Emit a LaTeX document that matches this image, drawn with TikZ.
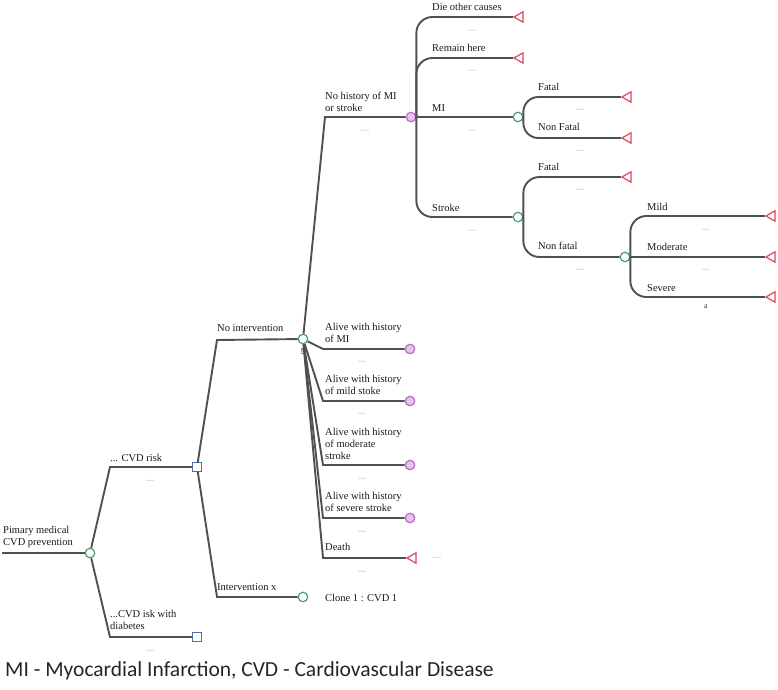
\documentclass[tikz,border=0pt]{standalone}
\usepackage{fontspec}
\setmainfont{Liberation Serif}
\newfontfamily\footfont{Carlito}
\usetikzlibrary{shapes.geometric}
\definecolor{lineclr}{RGB}{80,80,80}
\definecolor{chanceclr}{RGB}{70,160,110}
\definecolor{markovclr}{RGB}{185,110,195}
\definecolor{markovfill}{RGB}{228,195,238}
\definecolor{termclr}{RGB}{220,70,90}
\definecolor{decclr}{RGB}{80,110,170}
\definecolor{dashclr}{RGB}{165,165,165}
\definecolor{warnclr}{RGB}{120,40,40}
\tikzset{
  branch/.style={draw=lineclr, line width=1.9pt},
  rbranch/.style={branch, rounded corners=16pt},
  chance/.style={circle, draw=chanceclr, fill=white, line width=1.2pt, minimum size=9.5pt, inner sep=0pt},
  markov/.style={circle, draw=markovclr, fill=markovfill, line width=1.2pt, minimum size=9.5pt, inner sep=0pt},
  decision/.style={rectangle, draw=decclr, fill=white, line width=1.2pt, minimum size=8.5pt, inner sep=0pt},
  terminal/.style={regular polygon, regular polygon sides=3, shape border rotate=90, draw=termclr, fill=white, line width=1.2pt, minimum size=12pt, inner sep=0pt},
  lbl/.style={anchor=north west, inner sep=0pt, align=left, font=\fontsize{10.5}{12}\selectfont, text=black!90},
  dashmark/.style={inner sep=0pt, text=dashclr, font=\fontsize{8}{8}\selectfont},
}
\begin{document}
\begin{tikzpicture}[x=1pt, y=-1pt]
\useasboundingbox (0,0) rectangle (778,689);

% ---------- nodes ----------
\coordinate (rootL) at (2,553);
\node[chance] (C0) at (90,553) {};
\node[decision] (D1) at (197,467) {};
\node[decision] (D2) at (197,637) {};
\node[chance] (C1) at (303,339) {};
\node[chance] (Cint) at (303,597) {};
\node[markov] (M1) at (411,117) {};
\node[markov] (M2) at (410,349) {};
\node[markov] (M3) at (410,401) {};
\node[markov] (M4) at (410,465) {};
\node[markov] (M5) at (410,518) {};
\node[terminal] (Tdeath) at (413,558) {};
\node[terminal] (Tdie) at (520,17) {};
\node[terminal] (Tremain) at (520,58) {};
\node[chance] (C2) at (518,117) {};
\node[chance] (C3) at (518,217) {};
\node[terminal] (TMIf) at (628,97) {};
\node[terminal] (TMInf) at (628,138) {};
\node[terminal] (TSf) at (628,177) {};
\node[chance] (C4) at (625,257) {};
\node[terminal] (Tmild) at (772,216) {};
\node[terminal] (Tmod) at (772,257) {};
\node[terminal] (Tsev) at (772,297) {};

% ---------- connectors ----------
\draw[branch] (rootL) -- (C0);
\draw[branch] (C0) -- (110,467) -- (D1);
\draw[branch] (C0) -- (110,637) -- (D2);
\draw[branch] (D1) -- (217,340) -- (C1);
\draw[branch] (D1) -- (217,597) -- (Cint);
\draw[branch] (C1) -- (325,117) -- (M1);
\draw[branch] (C1) -- (323,349) -- (M2);
\draw[branch] (C1) -- (323,401) -- (M3);
\draw[branch] (C1) -- (323,465) -- (M4);
\draw[branch] (C1) -- (323,518) -- (M5);
\draw[branch] (C1) -- (323,558) -- (Tdeath.corner 1);
\draw[rbranch] (M1.east) |- (Tdie.corner 1);
\draw[rbranch] (M1.east) |- (Tremain.corner 1);
\draw[branch] (M1) -- (C2);
\draw[rbranch] (M1.east) |- (C3.west);
\draw[branch, rounded corners=15pt] (C2.east) |- (TMIf.corner 1);
\draw[branch, rounded corners=15pt] (C2.east) |- (TMInf.corner 1);
\draw[rbranch] (C3.east) |- (TSf.corner 1);
\draw[rbranch] (C3.east) |- (C4.west);
\draw[rbranch] (C4.east) |- (Tmild.corner 1);
\draw[branch] (C4) -- (Tmod.corner 1);
\draw[rbranch] (C4.east) |- (Tsev.corner 1);

% ---------- labels ----------
\node[lbl] (lroot) at (3,526) {Pimary medical\\CVD prevention};
\node[lbl] (lrisk) at (110,454) {... CVD risk};
\node[lbl] (ldiab) at (110,610) {...CVD isk with\\diabetes};
\node[lbl] (lnoint) at (217,324) {No intervention};
\node[lbl] (lint) at (217,583) {Intervention x};
\node[lbl] (lclone) at (325,594) {Clone 1 : CVD 1};
\node[lbl] (lnohist) at (325,92) {No history of MI\\or stroke};
\node[lbl] (ldie) at (432,3.5) {Die other causes};
\node[lbl] (lremain) at (432,44) {Remain here};
\node[lbl] (lmi) at (432,104) {MI};
\node[lbl] (lstroke) at (432,204) {Stroke};
\node[lbl] (lmif) at (538,83) {Fatal};
\node[lbl] (lminf) at (538,123) {Non Fatal};
\node[lbl] (lsf) at (538,163) {Fatal};
\node[lbl] (lsnf) at (538,242) {Non fatal};
\node[lbl] (lmild) at (647,203) {Mild};
\node[lbl] (lmod) at (647,243) {Moderate};
\node[lbl] (lsev) at (647,284) {Severe};
\node[lbl] (la1) at (325,323) {Alive with history\\of MI};
\node[lbl] (la2) at (325,375) {Alive with history\\of mild stoke};
\node[lbl] (la3) at (325,428) {Alive with history\\of moderate\\stroke};
\node[lbl] (la4) at (325,492) {Alive with history\\of severe stroke};
\node[lbl] (ldeath) at (325,543) {Death};
\node[inner sep=0pt, text=warnclr, font=\fontsize{9}{9}\bfseries\selectfont] (warn) at (302,352) {!};

% ---------- small dashes ----------
\node[dashmark] (d1) at (150,481) {—};
\node[dashmark] (d2) at (150,651) {—};
\node[dashmark] (d3) at (365,131) {—};
\node[dashmark] (d4) at (472,31) {—};
\node[dashmark] (d5) at (472,71) {—};
\node[dashmark] (d6) at (472,131) {—};
\node[dashmark] (d7) at (472,231) {—};
\node[dashmark] (d8) at (580,110) {—};
\node[dashmark] (d9) at (580,151) {—};
\node[dashmark] (d10) at (580,190) {—};
\node[dashmark] (d11) at (580,270) {—};
\node[dashmark] (d12) at (706,230) {—};
\node[dashmark] (d13) at (706,270) {—};
\node[inner sep=0pt, text=black!80, font=\fontsize{8}{8}\selectfont] (amark) at (706,307) {a};
\node[dashmark] (d14) at (362,362) {—};
\node[dashmark] (d15) at (362,414) {—};
\node[dashmark] (d16) at (362,479) {—};
\node[dashmark] (d17) at (362,532) {—};
\node[dashmark] (d18) at (362,572) {—};
\node[dashmark] (d19) at (437,558) {—};

% ---------- footer ----------
\node[anchor=base west, inner sep=0pt, text=black!85, font=\footfont\fontsize{21.5}{21.5}\selectfont] (foot) at (5,676) {MI - Myocardial Infarction, CVD - Cardiovascular Disease};
\end{tikzpicture}
\end{document}
